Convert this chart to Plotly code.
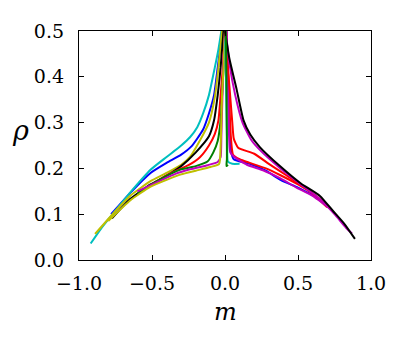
import plotly.graph_objects as go

# left branches (m < 0)
cyan_l_m = [-0.92, -0.85, -0.77, -0.65, -0.51, -0.40, -0.30, -0.24, -0.19, -0.15, -0.11, -0.07, -0.045, -0.025]
cyan_l_r = [0.036, 0.068, 0.100, 0.147, 0.197, 0.225, 0.250, 0.268, 0.290, 0.320, 0.360, 0.420, 0.460, 0.500]
blue_l_m = [-0.78, -0.65, -0.51, -0.40, -0.30, -0.23, -0.15, -0.11, -0.075, -0.05, -0.03, -0.018]
blue_l_r = [0.100, 0.146, 0.190, 0.212, 0.230, 0.248, 0.285, 0.320, 0.360, 0.420, 0.470, 0.500]
olive_l_m = [-0.89, -0.77, -0.65, -0.51, -0.40, -0.30, -0.24, -0.17, -0.11, -0.07, -0.045, -0.02]
olive_l_r = [0.057, 0.100, 0.140, 0.172, 0.190, 0.208, 0.225, 0.262, 0.300, 0.355, 0.420, 0.500]
black_l_m = [-0.774, -0.65, -0.51, -0.40, -0.30, -0.20, -0.11, -0.075, -0.05, -0.03, -0.01]
black_l_r = [0.091, 0.133, 0.165, 0.184, 0.205, 0.235, 0.270, 0.305, 0.360, 0.420, 0.500]
red_l_m = [-0.55, -0.40, -0.30, -0.25, -0.17, -0.11, -0.07, -0.045, -0.03, -0.015, 0.0]
red_l_r = [0.155, 0.185, 0.200, 0.207, 0.225, 0.250, 0.275, 0.305, 0.360, 0.420, 0.500]
green_l_m = [-0.60, -0.45, -0.30, -0.20, -0.12, -0.08, -0.05, -0.03, -0.02, -0.01, 0.0]
green_l_r = [0.145, 0.175, 0.198, 0.205, 0.215, 0.235, 0.260, 0.305, 0.360, 0.420, 0.500]
magenta_l_m = [-0.60, -0.45, -0.34, -0.24, -0.12, -0.05, -0.03, -0.025, -0.02, -0.012, 0.0]
magenta_l_r = [0.150, 0.172, 0.188, 0.198, 0.207, 0.214, 0.225, 0.270, 0.330, 0.420, 0.500]
olive2_l_m = [-0.80, -0.65, -0.51, -0.40, -0.30, -0.20, -0.10, -0.04, -0.03, -0.025, -0.02, -0.01, 0.0]
olive2_l_r = [0.085, 0.130, 0.160, 0.175, 0.187, 0.195, 0.203, 0.210, 0.250, 0.300, 0.360, 0.420, 0.500]

# right branches (m > 0)
cyan_r_m = [0.0, 0.005, 0.01, 0.015, 0.02, 0.05, 0.10]
cyan_r_r = [0.500, 0.420, 0.330, 0.250, 0.215, 0.210, 0.210]
green_r_m = [0.005, 0.01, 0.012, 0.013, 0.01, 0.02]
green_r_r = [0.500, 0.400, 0.300, 0.220, 0.205, 0.208]
blue_r_m = [0.01, 0.02, 0.03, 0.04, 0.06, 0.17, 0.28, 0.38, 0.50, 0.61]
blue_r_r = [0.500, 0.400, 0.300, 0.240, 0.220, 0.210, 0.195, 0.175, 0.158, 0.140]
red2_r_m = [0.01, 0.02, 0.03, 0.04, 0.055, 0.10, 0.17, 0.28, 0.38, 0.50, 0.60, 0.70]
red2_r_r = [0.500, 0.420, 0.340, 0.270, 0.230, 0.220, 0.212, 0.200, 0.185, 0.165, 0.145, 0.115]
magenta2_r_m = [0.01, 0.02, 0.025, 0.036, 0.064, 0.15, 0.26, 0.38, 0.49, 0.60, 0.72]
magenta2_r_r = [0.500, 0.400, 0.305, 0.235, 0.225, 0.208, 0.196, 0.178, 0.158, 0.140, 0.112]
red_r_m = [0.0, 0.02, 0.04, 0.05, 0.06, 0.09, 0.20, 0.30, 0.42, 0.56, 0.68, 0.77]
red_r_r = [0.500, 0.420, 0.340, 0.300, 0.265, 0.245, 0.232, 0.210, 0.185, 0.155, 0.125, 0.095]
magenta_r_m = [0.005, 0.03, 0.07, 0.12, 0.18, 0.24, 0.38, 0.52, 0.65, 0.75, 0.83, 0.87]
magenta_r_r = [0.500, 0.430, 0.360, 0.300, 0.262, 0.240, 0.200, 0.165, 0.133, 0.100, 0.070, 0.058]
black_r_m = [0.0, 0.03, 0.08, 0.127, 0.173, 0.24, 0.38, 0.52, 0.65, 0.74, 0.82, 0.89]
black_r_r = [0.500, 0.440, 0.372, 0.305, 0.274, 0.246, 0.204, 0.167, 0.140, 0.107, 0.078, 0.046]

xticks = [-1.0, -0.5, 0.0, 0.5, 1.0]
yticks = [0.0, 0.1, 0.2, 0.3, 0.4, 0.5]

curves = [
    (blue_l_m, blue_l_r, '#0000ff'),
    (cyan_l_m, cyan_l_r, '#00bfbf'),
    (olive_l_m, olive_l_r, '#bfbf00'),
    (black_l_m, black_l_r, '#000000'),
    (red_l_m, red_l_r, '#ff0000'),
    (green_l_m, green_l_r, '#008000'),
    (magenta_l_m, magenta_l_r, '#bf00bf'),
    (olive2_l_m, olive2_l_r, '#bfbf00'),
    (cyan_r_m, cyan_r_r, '#00bfbf'),
    (blue_r_m, blue_r_r, '#0000ff'),
    (red2_r_m, red2_r_r, '#ff0000'),
    (magenta2_r_m, magenta2_r_r, '#bf00bf'),
    (red_r_m, red_r_r, '#ff0000'),
    (magenta_r_m, magenta_r_r, '#bf00bf'),
    (black_r_m, black_r_r, '#000000'),
    (green_r_m, green_r_r, '#008000'),
]

fig = go.Figure()
for m, r, c in curves:
    fig.add_trace(go.Scatter(x=m, y=r, mode='lines', line=dict(color=c, width=2, shape='spline', smoothing=0.5),
                             showlegend=False, hoverinfo='skip'))

axis = dict(showline=True, linecolor='black', linewidth=1.3, mirror='ticks', ticks='inside', ticklen=5,
            tickcolor='black', tickwidth=1, showgrid=False, zeroline=False)
fig.update_xaxes(range=[-1, 1], tickvals=xticks, ticktext=['\u22121.0', '\u22120.5', '0.0', '0.5', '1.0'],
                 ticklabelstandoff=6, **axis)
fig.update_yaxes(range=[0, 0.5], tickvals=yticks, ticktext=['0.0', '0.1', '0.2', '0.3', '0.4', '0.5'],
                 ticklabelstandoff=10, **axis)
# the page body has an 8px margin, so the figure is drawn 8px in and 8px down
fig.update_layout(
    width=390, height=332, margin=dict(l=71, r=27, t=14, b=80),
    plot_bgcolor='white', paper_bgcolor='white',
    font=dict(family='DejaVu Serif', size=19, color='black'),
    annotations=[
        dict(text='<i>m</i>', xref='paper', yref='paper', x=0.5, y=-0.225, showarrow=False,
             xanchor='center', yanchor='middle', font=dict(size=24)),
        dict(text='<i>\u03c1</i>', xref='paper', yref='paper', x=-0.2, y=0.567, showarrow=False,
             xanchor='center', yanchor='middle', font=dict(size=27)),
    ],
)
fig.write_html("out.html")
